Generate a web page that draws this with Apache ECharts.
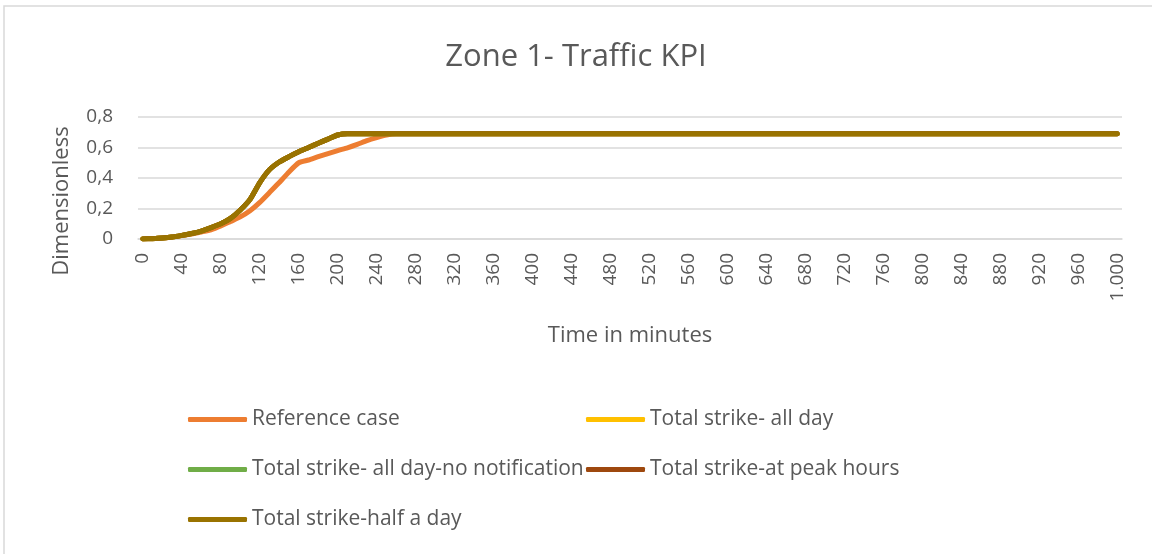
<!DOCTYPE html>
<html lang="en">
<head>
    <meta charset="UTF-8">
    <title>Zone 1- Traffic KPI</title>
    <script src="https://cdn.jsdelivr.net/npm/echarts@6/dist/echarts.min.js"></script>
    <style>
        html, body { margin: 0; padding: 0; background: #fff; }
    </style>
</head>
<body>
<div id="container" style="width:1152px;height:554px;"></div>
<script>
    // time in minutes, one point every 10 minutes
    var minutes = [
        0, 10, 20, 30, 40, 50, 60, 70, 80, 90,
        100, 110, 120, 130, 140, 150, 160, 170, 180, 190,
        200, 210, 220, 230, 240, 250, 260, 270, 280, 290,
        300, 310, 320, 330, 340, 350, 360, 370, 380, 390,
        400, 410, 420, 430, 440, 450, 460, 470, 480, 490,
        500, 510, 520, 530, 540, 550, 560, 570, 580, 590,
        600, 610, 620, 630, 640, 650, 660, 670, 680, 690,
        700, 710, 720, 730, 740, 750, 760, 770, 780, 790,
        800, 810, 820, 830, 840, 850, 860, 870, 880, 890,
        900, 910, 920, 930, 940, 950, 960, 970, 980, 990,
        1000
    ];

    var referenceCase = [
        0, 0.002, 0.006, 0.013, 0.022, 0.033, 0.046, 0.06, 0.085, 0.115,
        0.145, 0.185, 0.24, 0.305, 0.37, 0.44, 0.5, 0.518, 0.54, 0.56,
        0.58, 0.598, 0.62, 0.645, 0.665, 0.682, 0.69, 0.69, 0.69, 0.69,
        0.69, 0.69, 0.69, 0.69, 0.69, 0.69, 0.69, 0.69, 0.69, 0.69,
        0.69, 0.69, 0.69, 0.69, 0.69, 0.69, 0.69, 0.69, 0.69, 0.69,
        0.69, 0.69, 0.69, 0.69, 0.69, 0.69, 0.69, 0.69, 0.69, 0.69,
        0.69, 0.69, 0.69, 0.69, 0.69, 0.69, 0.69, 0.69, 0.69, 0.69,
        0.69, 0.69, 0.69, 0.69, 0.69, 0.69, 0.69, 0.69, 0.69, 0.69,
        0.69, 0.69, 0.69, 0.69, 0.69, 0.69, 0.69, 0.69, 0.69, 0.69,
        0.69, 0.69, 0.69, 0.69, 0.69, 0.69, 0.69, 0.69, 0.69, 0.69,
        0.69
    ];

    // the four strike scenarios sit on top of each other, only "half a day" is visible
    var strikeCase = [
        0, 0.002, 0.006, 0.013, 0.024, 0.036, 0.052, 0.075, 0.1, 0.135,
        0.19, 0.26, 0.37, 0.455, 0.505, 0.54, 0.572, 0.6, 0.628, 0.655,
        0.682, 0.69, 0.69, 0.69, 0.69, 0.69, 0.69, 0.69, 0.69, 0.69,
        0.69, 0.69, 0.69, 0.69, 0.69, 0.69, 0.69, 0.69, 0.69, 0.69,
        0.69, 0.69, 0.69, 0.69, 0.69, 0.69, 0.69, 0.69, 0.69, 0.69,
        0.69, 0.69, 0.69, 0.69, 0.69, 0.69, 0.69, 0.69, 0.69, 0.69,
        0.69, 0.69, 0.69, 0.69, 0.69, 0.69, 0.69, 0.69, 0.69, 0.69,
        0.69, 0.69, 0.69, 0.69, 0.69, 0.69, 0.69, 0.69, 0.69, 0.69,
        0.69, 0.69, 0.69, 0.69, 0.69, 0.69, 0.69, 0.69, 0.69, 0.69,
        0.69, 0.69, 0.69, 0.69, 0.69, 0.69, 0.69, 0.69, 0.69, 0.69,
        0.69
    ];

    var seriesNames = [
        'Reference case',
        'Total strike- all day',
        'Total strike- all day-no notification',
        'Total strike-at peak hours',
        'Total strike-half a day'
    ];
    var seriesColors = ['#ED7D31', '#FFC000', '#70AD47', '#9E480E', '#997300'];
    var seriesValues = [referenceCase, strikeCase, strikeCase, strikeCase, strikeCase];

    var textColor = '#595959';
    var fontName = '"Open Sans", "Liberation Sans", sans-serif';

    var dom = document.getElementById('container');
    var myChart = echarts.init(dom, null, {renderer: 'canvas'});

    var series = [];
    for (var i = 0; i < seriesNames.length; i++) {
        series.push({
            name: seriesNames[i],
            type: 'line',
            data: seriesValues[i],
            symbol: 'none',
            smooth: 0.2,
            animation: false,
            lineStyle: {width: 5, color: seriesColors[i], cap: 'round', join: 'round'},
            itemStyle: {color: seriesColors[i]}
        });
    }

    var legendBase = {
        orient: 'vertical',
        icon: 'roundRect',
        padding: 0,
        itemWidth: 59,
        itemHeight: 5,
        itemGap: 29,
        textStyle: {color: textColor, fontSize: 21, fontFamily: fontName}
    };

    var option = {
        backgroundColor: '#fff',
        textStyle: {fontFamily: fontName},
        title: {
            text: 'Zone 1- Traffic KPI',
            left: 'center',
            top: 37,
            textStyle: {color: textColor, fontSize: 31, fontWeight: 'normal', fontFamily: fontName}
        },
        legend: [
            Object.assign({}, legendBase, {
                left: 188, top: 409,
                data: [seriesNames[0], seriesNames[2], seriesNames[4]]
            }),
            Object.assign({}, legendBase, {
                left: 586, top: 409,
                data: [seriesNames[1], seriesNames[3]]
            })
        ],
        grid: {
            left: 138,
            right: 30,
            top: 117,
            bottom: 315,
            containLabel: false,
            outerBoundsMode: 'none'
        },
        xAxis: {
            type: 'category',
            data: minutes,
            boundaryGap: true,
            name: 'Time in minutes',
            nameLocation: 'middle',
            nameGap: 86,
            nameTextStyle: {color: textColor, fontSize: 22, fontFamily: fontName},
            axisLine: {show: true, lineStyle: {color: '#d9d9d9', width: 1.5}},
            axisTick: {show: false},
            axisLabel: {
                interval: 3,
                rotate: 90,
                margin: 14,
                color: textColor,
                fontSize: 19,
                fontFamily: fontName,
                formatter: function (v) {
                    return v === '1000' || v === 1000 ? '1.000' : v;
                }
            }
        },
        yAxis: {
            type: 'value',
            min: 0,
            max: 0.8,
            interval: 0.2,
            axisLine: {show: false},
            axisTick: {show: false},
            splitLine: {lineStyle: {color: '#d9d9d9', width: 1.5}},
            axisLabel: {
                margin: 25,
                color: textColor,
                fontSize: 19,
                fontFamily: fontName,
                formatter: function (v) {
                    return v === 0 ? '0' : v.toFixed(1).replace('.', ',');
                }
            }
        },
        graphic: [
            {
                type: 'rect',
                silent: true,
                shape: {x: 4, y: 6, width: 1300, height: 700},
                style: {fill: 'none', stroke: '#d9d9d9', lineWidth: 1.5}
            },
            {
                type: 'text',
                silent: true,
                x: 62,
                y: 201,
                rotation: Math.PI / 2,
                style: {
                    text: 'Dimensionless',
                    fill: textColor,
                    fontSize: 22,
                    fontFamily: fontName,
                    align: 'center',
                    verticalAlign: 'middle'
                }
            }
        ],
        series: series
    };

    myChart.setOption(option);
</script>
</body>
</html>
